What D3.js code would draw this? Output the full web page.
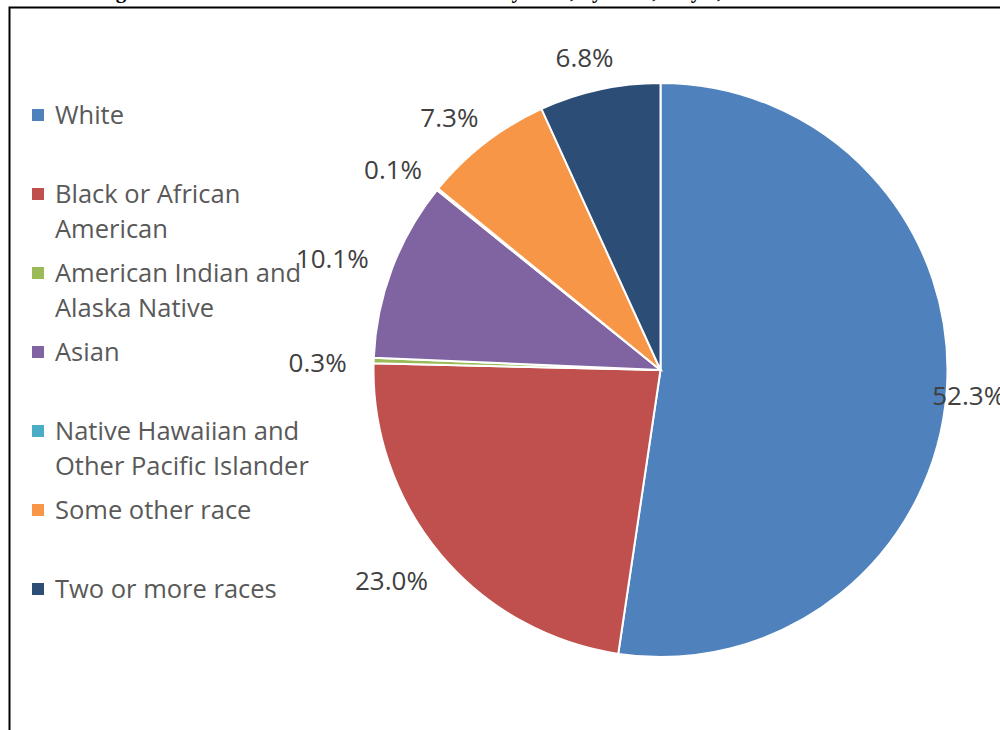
<!DOCTYPE html>
<html>
<head>
<meta charset="utf-8">
<script src="https://cdn.jsdelivr.net/npm/d3@7"></script>
<style>
  body { margin: 0; background: #fff; }
  svg { display: block; }
</style>
</head>
<body>
<script>
// race breakdown, percent of population
var races = ["White", "Black or African American", "American Indian and Alaska Native",
             "Asian", "Native Hawaiian and Other Pacific Islander", "Some other race",
             "Two or more races"];
var percents = [52.3, 23.0, 0.3, 10.1, 0.1, 7.3, 6.8];
var legendLines = [["White"], ["Black or African", "American"], ["American Indian and", "Alaska Native"],
                   ["Asian"], ["Native Hawaiian and", "Other Pacific Islander"], ["Some other race"],
                   ["Two or more races"]];
var colors = ["#4F81BD", "#C0504D", "#9BBB59", "#8064A2", "#4BACC6", "#F79646", "#2C4D75"];

var width = 1000, height = 730;
var cx = 660.5, cy = 370, radius = 287;
var font = "'Open Sans', 'Noto Sans', sans-serif";

var svg = d3.select("body").append("svg")
    .attr("width", width)
    .attr("height", height);

// title is cut off at the top of the picture, only descenders show
svg.append("text")
    .attr("x", 97)
    .attr("y", -2)
    .style("font-family", "'Liberation Serif', 'Times New Roman', serif")
    .style("font-weight", "bold")
    .style("font-size", "21px")
    .text("Figure 1: Distribution of Residents in the Study Area, by Race, July 1, 2020");

// frame
svg.append("path")
    .attr("d", "M9.5," + height + "V7.5H" + width)
    .attr("fill", "none")
    .attr("stroke", "#000")
    .attr("stroke-width", 2);

var data = races.map(function(r, i) { return {race: r, value: percents[i], i: i}; });

var pie = d3.pie()
    .sort(null)
    .value(function(d) { return d.value; });

var arc = d3.arc().innerRadius(0).outerRadius(radius);

var g = svg.append("g")
    .attr("transform", "translate(" + cx + "," + cy + ")");

var arcs = pie(data);

g.selectAll("path.slice")
    .data(arcs)
  .enter().append("path")
    .attr("class", "slice")
    .attr("d", arc)
    .attr("fill", function(d) { return colors[d.data.i]; })
    .attr("stroke", "#fff")
    .attr("stroke-width", 2);

// data labels: box pushed outward from a point just past the rim
// (the big slice label sits on the edge)
var labels = g.selectAll("text.lbl")
    .data(arcs)
  .enter().append("text")
    .attr("class", "lbl")
    .attr("dy", "0.47em")
    .style("text-anchor", "middle")
    .style("font-family", font)
    .style("font-size", "26px")
    .style("fill", "#404040")
    .text(function(d) { return d.data.value.toFixed(1) + "%"; });

labels.attr("transform", function(d) {
  var a = (d.startAngle + d.endAngle) / 2;
  var sx = Math.sin(a), sy = -Math.cos(a);
  if (d.data.value > 50) {
    var rb = radius + 22;
    return "translate(" + (sx * rb) + "," + (sy * rb) + ")";
  }
  var w = this.getComputedTextLength(), h = 26;
  var r = radius + 23;
  return "translate(" + (sx * r + sx * w / 2 - 4) + "," + (sy * r + sy * h / 2) + ")";
});

// legend
var legend = svg.append("g");
var item = legend.selectAll("g")
    .data(data)
  .enter().append("g")
    .attr("transform", function(d, i) { return "translate(32," + (115 + i * 79) + ")"; });

item.append("rect")
    .attr("x", 0)
    .attr("y", -6)
    .attr("width", 12)
    .attr("height", 12)
    .attr("fill", function(d) { return colors[d.i]; });

item.append("text")
    .attr("x", 23)
    .attr("y", 0)
    .style("font-family", font)
    .style("font-size", "25.5px")
    .style("fill", "#595959")
    .selectAll("tspan")
    .data(function(d) { return legendLines[d.i]; })
  .enter().append("tspan")
    .attr("x", 23)
    .attr("y", function(d, i) { return i * 35; })
    .attr("dy", "0.36em")
    .text(function(d) { return d; });
</script>
</body>
</html>
